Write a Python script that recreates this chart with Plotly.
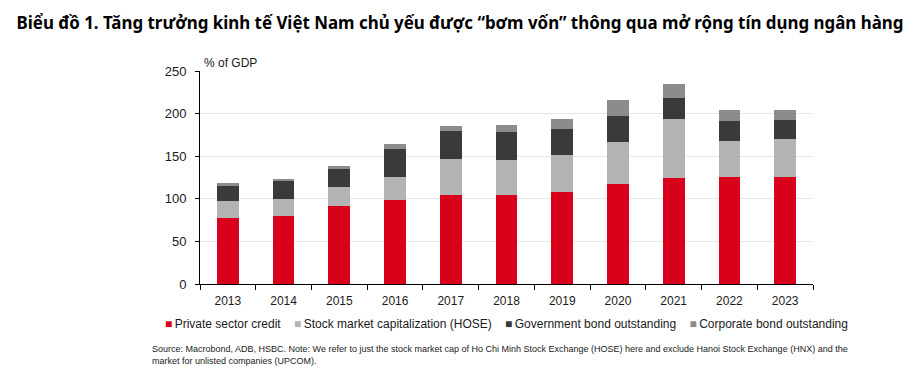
import plotly.graph_objects as go

years = ["2013", "2014", "2015", "2016", "2017", "2018", "2019", "2020", "2021", "2022", "2023"]
private_credit = [78, 80, 91, 99, 104, 105, 108.5, 117, 124.5, 125.5, 125.5]
stock_cap = [19, 20, 22.5, 27, 43, 41, 43, 49.5, 69, 42, 45]
gov_bond = [17.5, 21, 21.5, 32, 32, 32, 30, 31, 24.5, 23.5, 22]
corp_bond = [4, 2, 4, 6, 7, 8.5, 12, 18.5, 17, 13, 12]

series = [
    ("Private sector credit", private_credit, "#d9001b"),
    ("Stock market capitalization (HOSE)", stock_cap, "#b3b3b3"),
    ("Government bond outstanding", gov_bond, "#3a3a3a"),
    ("Corporate bond outstanding", corp_bond, "#8c8c8c"),
]

FONT = "Liberation Sans, Arial, sans-serif"

fig = go.Figure()
for name, vals, col in series:
    fig.add_trace(go.Bar(x=years, y=vals, name=name, marker=dict(color=col, line=dict(width=0)), width=0.39))

fig.update_layout(
    barmode="stack",
    width=915, height=372,
    margin=dict(l=192, r=110, t=63, b=96),
    plot_bgcolor="white", paper_bgcolor="white",
    font=dict(family=FONT, size=13, color="#1a1a1a"),
    showlegend=False,
    title=dict(text="<b>Biểu đồ 1. Tăng trưởng kinh tế Việt Nam chủ yếu được “bơm vốn” thông qua mở rộng tín dụng ngân hàng</b>",
               x=0.494, xanchor="center", xref="container", y=1 - 15 / 372, yanchor="middle", yref="container",
               font=dict(family="Noto Sans, sans-serif", size=16.9, color="#000")),
    xaxis=dict(showline=True, linecolor="#000", linewidth=1, ticks="outside", ticklen=5,
               tickcolor="#000", tickson="boundaries", showgrid=False,
               tickfont=dict(size=12), ticklabelstandoff=6),
    yaxis=dict(range=[0, 250], dtick=50, showline=True, linecolor="#000", linewidth=1,
               ticks="outside", ticklen=4, tickcolor="#000", gridcolor="#e6e6e6",
               tickfont=dict(size=13), zeroline=False, ticklabelstandoff=6),
)

# legend line built from the series names and colours
sep = "\u00a0" * 4
legend_text = sep.join(
    f"<span style='color:{col}'>■</span>\u2009{name}" for name, _, col in series
)
fig.add_annotation(text=legend_text, xref="paper", yref="paper", x=(155 - 192) / 613, y=-0.188,
                   xanchor="left", yanchor="middle", showarrow=False,
                   font=dict(family=FONT, size=12, color="#1a1a1a"))

fig.add_annotation(text="% of GDP", xref="paper", yref="paper", x=0.003, y=1.0,
                   xanchor="left", yanchor="bottom", yshift=-1, showarrow=False,
                   font=dict(family=FONT, size=12, color="#1a1a1a"))
fig.add_annotation(text="Source: Macrobond, ADB, HSBC. Note: We refer to just the stock market cap of Ho Chi Minh Stock Exchange (HOSE) here and exclude Hanoi Stock Exchange (HNX) and the<br>market for unlisted companies (UPCOM).",
                   xref="paper", yref="paper", x=-0.0816, y=-0.272, xanchor="left", yanchor="top",
                   align="left", showarrow=False,
                   font=dict(family=FONT, size=9, color="#1a1a1a"))

fig.write_html("out.html")
